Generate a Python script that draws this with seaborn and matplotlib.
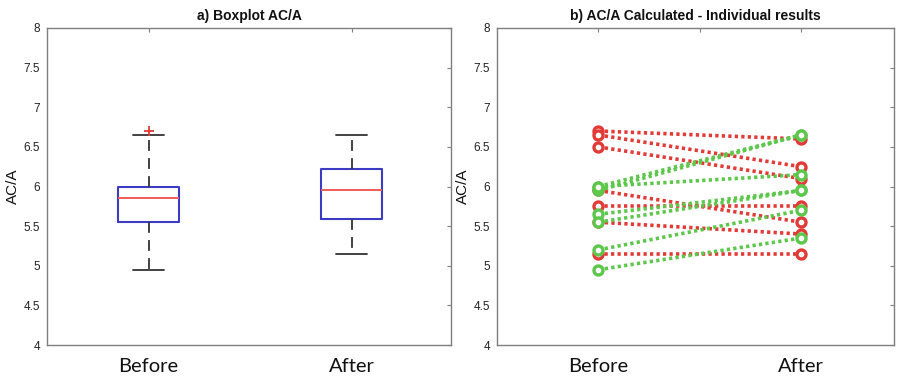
import matplotlib
matplotlib.use("Agg")
import matplotlib.pyplot as plt
import seaborn as sns
import pandas as pd
import numpy as np

# ---- data ----
subjects = list(range(1, 15))
before = [6.70, 6.65, 6.50, 5.95, 5.75, 5.55, 5.15, 6.00, 5.95, 6.00, 5.65, 5.55, 5.20, 4.95]
after = [6.60, 6.25, 6.10, 5.55, 5.75, 5.40, 5.15, 6.65, 6.65, 6.15, 5.95, 5.95, 5.70, 5.35]
phases = ["Before", "After"]
yticks = [4, 4.5, 5, 5.5, 6, 6.5, 7, 7.5, 8]
ytick_labels = ["4", "4.5", "5", "5.5", "6", "6.5", "7", "7.5", "8"]

rows = []
for s, b, a in zip(subjects, before, after):
    trend = "up" if a > b else "down"
    rows.append({"subject": s, "phase": "Before", "value": b, "trend": trend})
    rows.append({"subject": s, "phase": "After", "value": a, "trend": trend})
df = pd.DataFrame(rows)

sns.set_theme(style="white")
plt.rcParams["font.family"] = ["Liberation Sans", "DejaVu Sans"]
plt.rcParams["text.color"] = "#111111"
plt.rcParams["axes.labelcolor"] = "#111111"
plt.rcParams["xtick.labelcolor"] = "#111111"
plt.rcParams["ytick.labelcolor"] = "#222222"

fig = plt.figure(figsize=(8.97, 3.81), dpi=100)
ax1 = fig.add_axes([47 / 897, 36 / 381, 404 / 897, 317 / 381])
ax2 = fig.add_axes([497 / 897, 36 / 381, 397 / 897, 317 / 381])

spine_col = "#7f7f7f"
red = "#e23a36"
green = "#5cc74a"
blue = "#3b3bc4"

# ---- a) boxplot ----
sns.boxplot(
    data=df, x="phase", y="value", order=phases, ax=ax1, width=0.3, fill=False,
    color=blue, whis=1.5,
    boxprops=dict(color=blue, linewidth=1.5),
    medianprops=dict(color="#f05a5a", linewidth=1.4),
    whiskerprops=dict(color="#333333", linestyle=(0, (6, 4)), linewidth=1.3),
    capprops=dict(color="#333333", linewidth=1.3),
    flierprops=dict(marker="+", markeredgecolor=red, markerfacecolor=red,
                    markersize=7, markeredgewidth=1.3),
)
ax1.set_title("a) Boxplot AC/A", fontsize=10, fontweight="bold", pad=6)

# ---- b) individual results ----
sns.lineplot(
    data=df, x="phase", y="value", units="subject", estimator=None, hue="trend",
    palette={"up": green, "down": red}, ax=ax2, sort=False, legend=False,
    linestyle=(0, (0.9, 0.9)), linewidth=2.6, marker="o", markersize=6.5,
    markerfacecolor="white", markeredgewidth=2.4,
)
for line in ax2.lines:
    line.set_markeredgecolor(line.get_color())
ax2.set_title("b) AC/A Calculated - Individual results", fontsize=10,
              fontweight="bold", pad=6)

for ax in (ax1, ax2):
    ax.set_ylim(4, 8)
    ax.set_yticks(yticks)
    ax.set_yticklabels(ytick_labels)
    ax.set_ylabel("AC/A", fontsize=11, labelpad=4)
    ax.set_xlabel("")
    for sp in ax.spines.values():
        sp.set_visible(True)
        sp.set_color(spine_col)
        sp.set_linewidth(1.0)
    ax.tick_params(axis="both", direction="in", top=True, right=True,
                   length=3, width=0.8, color=spine_col)
    ax.tick_params(axis="y", labelsize=8.5, pad=5)
    ax.tick_params(axis="x", labelsize=14.5, pad=9)
    ax.yaxis.set_label_coords(-0.067, 0.5)

ax1.set_xlim(-0.5, 1.49)
ax1.set_xticks([0, 1])
ax1.set_xticklabels(phases)

ax2.set_xlim(-0.5, 1.458)
ax2.set_xticks([0, 0.5, 1])
ax2.set_xticklabels(["Before", "", "After"])

for ax in (ax1, ax2):
    for lab in ax.get_xticklabels():
        lab.set_family(["Lato", "DejaVu Sans"])

fig.savefig("out.png", dpi=100, facecolor="white")
